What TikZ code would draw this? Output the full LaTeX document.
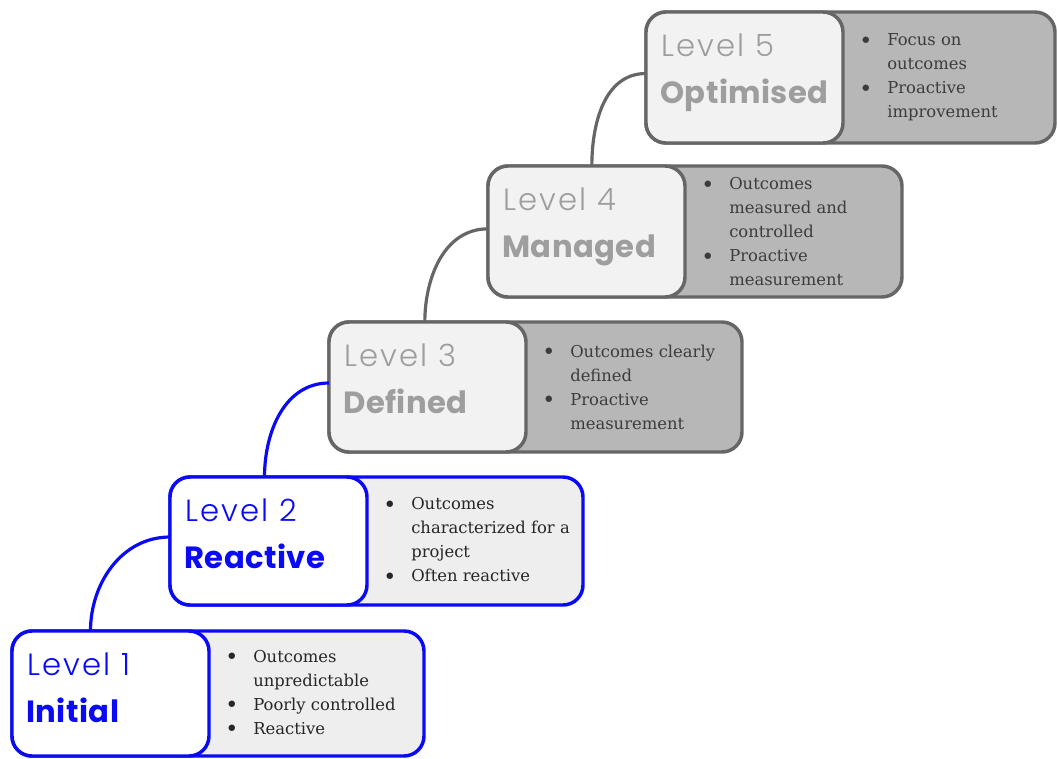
\documentclass[tikz,border=0pt]{standalone}
\usepackage{fontspec}
\usepackage{graphicx}
\setmainfont{DejaVu Serif}
\newfontfamily\headfont{Poppins Light}[LetterSpace=7]
\newfontfamily\titlefont{Poppins Bold}[LetterSpace=1.5]
\usetikzlibrary{calc}

\definecolor{actblue}{RGB}{10,10,245}
\definecolor{dimline}{HTML}{666666}
\definecolor{lightfill}{HTML}{EEEEEE}
\definecolor{palefill}{HTML}{F2F2F2}
\definecolor{midfill}{HTML}{B7B7B7}
\definecolor{headgray}{HTML}{9E9E9E}
\definecolor{actlist}{HTML}{262626}
\definecolor{dimlist}{HTML}{3C3C3C}

\newcommand\itm{\makebox[21pt][l]{\raisebox{-0.3ex}{\scalebox{1.35}{\textbullet}}}}
\newcommand\cnt{\hspace*{21pt}}

\tikzset{
  box/.style={draw, line width=2.6pt, rounded corners=15pt, anchor=north west,
    inner sep=0pt, outer sep=0pt},
  act outer/.style={draw=actblue, fill=lightfill},
  act inner/.style={draw=actblue, fill=white},
  act head/.style={text=actblue},
  act list/.style={text=actlist},
  act conn/.style={draw=actblue},
  dim outer/.style={draw=dimline, fill=midfill},
  dim inner/.style={draw=dimline, fill=palefill},
  dim head/.style={text=headgray},
  dim list/.style={text=dimlist},
  dim conn/.style={draw=dimline},
  levtext/.style={anchor=base west, inner sep=0pt, font=\headfont\fontsize{23}{26}\selectfont},
  titletext/.style={anchor=base west, inner sep=0pt, font=\titlefont\fontsize{23}{26}\selectfont},
  listtext/.style={anchor=west, inner sep=0pt, align=left, font=\fontsize{12.3}{18}\selectfont},
  conn/.style={line width=2.4pt},
}

% \lvl{id}{x1}{y1}{x2}{y2}{scheme}{number}{title}{bullets}
\newcommand\lvl[9]{%
  \node[box, #6 outer, minimum width={(#4-#2)*0.75pt}, minimum height={(#5-#3)*0.75pt}] (o#1) at (#2,#3) {};
  \node[box, #6 inner, minimum width={197*0.75pt}, minimum height={(#5-#3)*0.75pt}] (i#1) at (#2,#3) {};
  \node[levtext, #6 head] (n#1) at ($(i#1.north west)+(15,44)$) {Level #7};
  \node[titletext, #6 head] (t#1) at ($(i#1.north west)+(14,91)$) {#8};
  \node[listtext, #6 list] (b#1) at ($(i#1.east)+(16,0)$) {#9};
}

\begin{document}
\begin{tikzpicture}[x=0.75pt,y=-0.75pt]
\useasboundingbox (0,0) rectangle (1058,758);

\lvl{1}{12}{631}{424}{756}{act}{1}{Initial}
  {\itm Outcomes\\\cnt unpredictable\\\itm Poorly controlled\\\itm Reactive}
\lvl{2}{170}{477}{583}{605}{act}{2}{Reactive}
  {\itm Outcomes\\\cnt characterized for a\\\cnt project\\\itm Often reactive}
\lvl{3}{329}{322}{742}{452}{dim}{3}{Defined}
  {\itm Outcomes clearly\\\cnt defined\\\itm Proactive\\\cnt measurement}
\lvl{4}{488}{166}{902}{297}{dim}{4}{Managed}
  {\itm Outcomes\\\cnt measured and\\\cnt controlled\\\itm Proactive\\\cnt measurement}
\lvl{5}{646}{12}{1055}{143}{dim}{5}{Optimised}
  {\itm Focus on\\\cnt outcomes\\\itm Proactive\\\cnt improvement}

% connectors between successive levels
\draw[conn, act conn] ([xshift=-15pt]i1.north) to[out=90,in=180] ([yshift=3pt]i2.west);
\draw[conn, act conn] ([xshift=-3pt]i2.north) to[out=90,in=180] ([yshift=3pt]i3.west);
\draw[conn, dim conn] ([xshift=-2pt]i3.north) to[out=90,in=180] ([yshift=2pt]i4.west);
\draw[conn, dim conn] ([xshift=4pt]i4.north) to[out=90,in=180] ([yshift=3pt]i5.west);
\end{tikzpicture}
\end{document}
